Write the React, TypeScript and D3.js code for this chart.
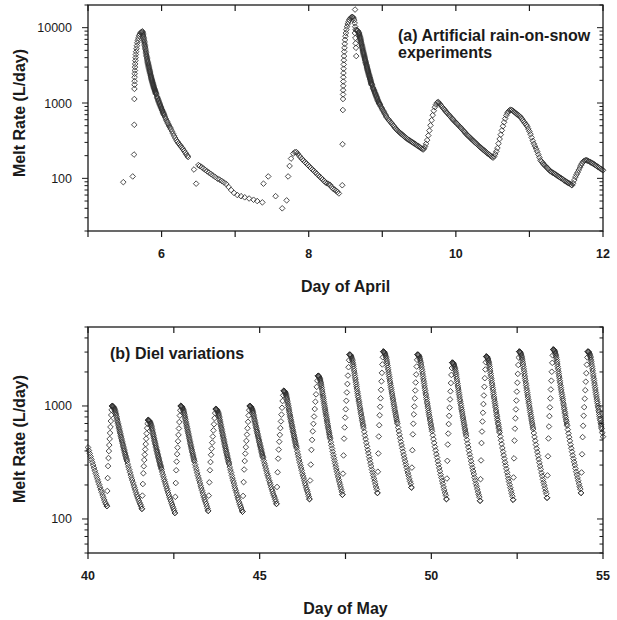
import React from "react";
import * as d3 from "d3";

// a segment is [first day, last day, melt rates logged evenly between them]
type Seg = [number, number, number[]];

// ---------- panel (a): artificial rain-on-snow experiments (April) ----------
const aprilDays = [5, 6, 7, 8, 9, 10, 11, 12];
const aprilDayLabels = [6, 8, 10, 12];

// single readings that do not sit on an even time step
const aprilPoints: [number, number][] = [
  [5.48, 89], [5.608, 106],
  [5.626, 207], [5.629, 514], [5.63, 1130], [5.631, 1540], [5.632, 1750], [5.633, 1950],
  [5.634, 2200], [5.635, 2450], [5.637, 2700], [5.639, 3000], [5.641, 3300], [5.644, 3650],
  [5.647, 4000], [5.65, 4400], [5.654, 4800], [5.659, 5250], [5.664, 5750], [5.67, 6300],
  [5.677, 6800], [5.685, 7300], [5.694, 7800], [5.704, 8200], [5.715, 8550], [5.727, 8800],
  [6.36, 192],
  [6.44, 131], [6.47, 85], [6.5, 150], [6.52, 146], [6.545, 141], [6.57, 135], [6.595, 129],
  [6.62, 124], [6.645, 119], [6.672, 114], [6.7, 109], [6.73, 104], [6.76, 99], [6.79, 96],
  [6.82, 92], [6.85, 88], [6.88, 84], [6.91, 77], [6.945, 70], [6.985, 64], [7.03, 60],
  [7.08, 58], [7.13, 56], [7.19, 54], [7.25, 52], [7.3, 50], [7.37, 48],
  [7.385, 85], [7.45, 106], [7.55, 58], [7.64, 40], [7.7, 51], [7.72, 106], [7.74, 146],
  [7.76, 183], [7.79, 213], [7.81, 222],
  [8.456, 81],
  [8.46, 284], [8.464, 807], [8.466, 1130], [8.467, 1300], [8.468, 1480], [8.469, 1690],
  [8.47, 1930], [8.471, 2200], [8.472, 2500], [8.474, 2850], [8.476, 3250], [8.478, 3700],
  [8.48, 4200], [8.483, 4800], [8.486, 5400], [8.49, 6100], [8.494, 6900], [8.499, 7700],
  [8.505, 8500], [8.512, 9400], [8.52, 10300], [8.53, 11200], [8.54, 12000], [8.552, 12700],
  [8.565, 13300], [8.578, 13700], [8.59, 13900], [8.6, 13800], [8.61, 13400], [8.618, 12600],
  [8.625, 11500], [8.632, 10300], [8.638, 9400], [8.648, 9300], [8.66, 9200], [8.67, 9000],
  [8.628, 8500], [8.634, 7300], [8.638, 6200], [8.642, 5400], [8.646, 4200],
  [8.63, 17400],
];

const aprilSegments: Seg[] = [
  [5.74, 5.926, [8950, 8340, 7730, 7110, 6550, 6030, 5550, 5100, 4690, 4310, 4010, 3720, 3475, 3265, 3070, 2884,
    2720, 2565, 2420, 2285, 2155, 2050, 1954, 1862, 1770, 1690, 1610, 1545, 1483, 1419, 1361, 1306]],
  [5.743, 5.923, [8640, 8030, 7410, 6820, 6285, 5785, 5320, 4890, 4500, 4160, 3860, 3595, 3370, 3165, 2975, 2800,
    2640, 2490, 2350, 2220, 2100, 2000, 1905, 1815, 1730, 1650, 1577, 1514, 1450, 1390, 1333]],
  [5.936, 6.126, [1225, 1151, 1081, 1016, 959, 906, 855, 809, 766, 724, 687, 653, 621, 590, 564, 538, 513, 491, 470, 450]],
  [5.941, 6.031, [1188, 1115, 1048, 987, 932, 880, 832, 787, 745, 705]],
  [6.141, 6.351, [421, 393, 366, 343, 321, 306, 292, 279, 268, 256, 244, 232, 220, 209, 199]],
  [7.83, 8.41, [224, 214, 200, 190, 180, 172, 164, 157, 150, 143, 137, 131, 126, 120, 115, 110, 105, 101, 97, 92,
    88, 86, 84, 82, 77, 73, 71, 69, 66, 63]],
  [8.68, 8.86, [8690, 8220, 7780, 7380, 6950, 6530, 6140, 5770, 5420, 5090, 4790, 4530, 4290, 4060, 3840, 3630,
    3440, 3250, 3080, 2920, 2770, 2640, 2510, 2380, 2260, 2150, 2050, 1950, 1850, 1780, 1720]],
  [8.683, 8.857, [8450, 8000, 7580, 7160, 6740, 6330, 5950, 5590, 5250, 4940, 4660, 4410, 4170, 3950, 3735, 3535,
    3345, 3165, 3000, 2845, 2705, 2575, 2445, 2320, 2205, 2100, 2000, 1900, 1815, 1750]],
  [8.87, 9.06, [1620, 1530, 1450, 1365, 1290, 1220, 1150, 1080, 1023, 981, 942, 902, 865, 830, 796, 764, 733, 702, 673, 646]],
  [8.875, 8.965, [1575, 1490, 1407, 1327, 1255, 1185, 1115, 1051, 1002, 961]],
  [9.075, 9.555, [619, 594, 569, 546, 524, 502, 481, 461, 443, 429, 416, 404, 392, 381, 370, 359, 349, 339, 331, 324,
    317, 310, 303, 297, 290, 284, 277, 271, 265, 259, 252, 247, 241]],
  [9.565, 9.76, [248, 264, 288, 322, 370, 430, 505, 590, 690, 790, 880, 955, 1010, 1035]],
  [9.77, 10.505, [993, 964, 923, 883, 847, 815, 782, 752, 723, 695, 670, 644, 619, 597, 575, 556, 537, 519, 501, 484,
    466, 449, 432, 416, 400, 385, 372, 361, 349, 338, 327, 317, 307, 297, 288, 279, 270, 262, 255, 248,
    241, 234, 228, 221, 215, 209, 204, 198, 193, 188]],
  [10.52, 10.76, [195, 210, 228, 252, 290, 333, 380, 433, 492, 555, 620, 685, 735, 775, 800, 812, 810]],
  [10.775, 11.57, [787, 766, 745, 724, 706, 689, 671, 650, 621, 592, 565, 538, 514, 490, 453, 420, 385, 348, 315, 288,
    267, 247, 228, 208, 190, 174, 167, 160, 153, 148, 143, 138, 133, 129, 124, 122, 119, 117, 114, 112,
    109, 107, 104, 102, 100, 98, 95, 93, 91, 89, 87, 86, 84, 82]],
  [11.58, 11.775, [81, 86, 95, 104, 112, 120, 129, 139, 149, 158, 166, 171, 174, 174]],
  [11.79, 12.0, [172, 169, 166, 163, 160, 157, 153, 150, 147, 143, 140, 137, 134, 131, 128]],
];

// ---------- panel (b): diel variations (May) ----------
const mayDays = [40, 42.5, 45, 47.5, 50, 52.5, 55];
const mayDayLabels = [40, 45, 50, 55];

const mayStart: Seg[] = [
  [40.0, 40.55, [430, 404, 380, 358, 337, 318, 300, 283, 267, 252, 238, 225, 213, 202, 191, 181, 172, 163, 155, 147, 140, 135, 130]],
];

const mayRises: Seg[] = [
  [40.55, 40.7, [130, 177, 230, 294, 346, 399, 451, 511, 577, 652, 736, 832, 923, 1000]],
  [41.57, 41.75, [123, 161, 204, 254, 293, 333, 371, 413, 460, 513, 571, 637, 698, 750]],
  [42.53, 42.7, [113, 157, 208, 270, 322, 375, 428, 488, 555, 632, 721, 822, 916, 1000]],
  [43.5, 43.72, [118, 161, 211, 270, 319, 370, 419, 474, 537, 608, 689, 780, 865, 940]],
  [44.5, 44.71, [116, 160, 212, 274, 326, 379, 432, 491, 558, 635, 724, 824, 918, 1000]],
  [45.49, 45.7, [136, 192, 259, 342, 411, 483, 555, 637, 731, 839, 964, 1107, 1242, 1360]],
  [46.45, 46.7, [150, 219, 303, 409, 501, 597, 695, 807, 940, 1091, 1268, 1476, 1671, 1850]],
  [47.41, 47.62, [164, 252, 365, 514, 646, 789, 935, 1112, 1318, 1567, 1858, 2203, 2541, 2850]],
  [48.43, 48.6, [170, 262, 380, 537, 676, 828, 984, 1169, 1390, 1652, 1963, 2333, 2698, 3030]],
  [49.42, 49.6, [190, 285, 406, 561, 697, 843, 991, 1167, 1371, 1614, 1901, 2234, 2559, 2850]],
  [50.44, 50.61, [150, 228, 327, 456, 570, 692, 818, 966, 1143, 1349, 1596, 1884, 2168, 2420]],
  [51.42, 51.6, [145, 225, 330, 470, 594, 729, 871, 1040, 1239, 1479, 1762, 2104, 2438, 2740]],
  [52.38, 52.56, [148, 233, 344, 494, 630, 778, 933, 1117, 1340, 1607, 1923, 2307, 2685, 3030]],
  [53.37, 53.55, [154, 243, 359, 516, 658, 813, 973, 1167, 1400, 1675, 2009, 2410, 2805, 3160]],
  [54.36, 54.56, [170, 258, 374, 530, 668, 820, 976, 1160, 1380, 1640, 1950, 2320, 2690, 3030]],
];

const mayFalls: Seg[] = [
  [40.7, 41.57, [1000, 994, 976, 948, 909, 862, 807, 751, 700, 654, 611, 571, 534, 500, 469, 440, 413, 389, 366, 344,
    325, 306, 289, 274, 259, 245, 232, 221, 210, 199, 190, 181, 172, 164, 157, 151, 145, 139, 134, 129, 123]],
  [41.75, 42.53, [750, 746, 734, 715, 689, 657, 619, 581, 546, 513, 483, 455, 429, 404, 382, 360, 341, 322, 305, 290,
    275, 261, 248, 236, 224, 214, 204, 195, 186, 178, 170, 163, 156, 150, 144, 138, 133, 128, 123, 118, 113]],
  [42.7, 43.5, [1000, 995, 978, 950, 912, 865, 810, 754, 702, 655, 612, 572, 535, 500, 468, 439, 412, 387, 364, 342,
    322, 303, 286, 271, 256, 242, 230, 219, 208, 197, 188, 179, 170, 162, 155, 148, 142, 136, 130, 124, 118]],
  [43.72, 44.5, [940, 934, 917, 891, 854, 810, 759, 706, 658, 615, 574, 537, 502, 470, 441, 414, 388, 366, 344, 323,
    306, 288, 272, 258, 243, 230, 218, 208, 197, 187, 179, 170, 162, 154, 148, 141, 135, 130, 125, 120, 116]],
  [44.71, 45.49, [1000, 994, 976, 951, 914, 870, 817, 764, 715, 671, 629, 590, 554, 521, 491, 462, 435, 412, 389, 367,
    348, 329, 311, 296, 281, 267, 253, 242, 231, 219, 210, 201, 191, 183, 176, 168, 162, 156, 149, 143, 136]],
  [45.7, 46.45, [1360, 1352, 1326, 1286, 1231, 1165, 1088, 1010, 939, 874, 814, 760, 708, 662, 619, 579, 542, 509, 479, 448,
    423, 397, 374, 354, 333, 315, 298, 283, 269, 254, 241, 230, 218, 207, 199, 189, 181, 174, 166, 158, 150]],
  [46.7, 47.41, [1850, 1840, 1800, 1740, 1660, 1560, 1450, 1330, 1230, 1140, 1050, 974, 903, 838, 779, 724, 674, 628, 586, 547,
    512, 479, 449, 421, 395, 371, 349, 329, 310, 293, 277, 262, 248, 235, 223, 212, 202, 192, 183, 174, 164]],
  [47.62, 48.43, [2850, 2830, 2757, 2653, 2514, 2336, 2139, 1952, 1773, 1623, 1481, 1348, 1235, 1131, 1045, 957, 881, 810, 748, 691,
    638, 591, 547, 509, 472, 440, 409, 383, 356, 334, 312, 293, 274, 258, 243, 229, 216, 204, 192, 183, 170]],
  [48.6, 49.42, [3030, 3011, 2932, 2825, 2679, 2493, 2286, 2089, 1902, 1743, 1593, 1453, 1333, 1223, 1132, 1038, 956, 882, 815, 753,
    698, 646, 600, 558, 519, 483, 451, 422, 394, 369, 346, 325, 305, 287, 269, 255, 241, 227, 215, 205, 190]],
  [49.6, 50.44, [2850, 2830, 2752, 2645, 2500, 2316, 2113, 1919, 1737, 1584, 1438, 1305, 1190, 1085, 999, 912, 836, 767, 705, 649,
    597, 551, 509, 471, 436, 405, 375, 350, 325, 303, 283, 265, 247, 232, 217, 205, 192, 181, 170, 162, 150]],
  [50.61, 51.42, [2420, 2404, 2341, 2253, 2134, 1984, 1818, 1658, 1505, 1378, 1258, 1145, 1050, 961, 888, 813, 749, 689, 636, 587,
    543, 502, 465, 433, 402, 374, 349, 325, 303, 284, 266, 250, 233, 220, 206, 195, 184, 173, 164, 156, 145]],
  [51.6, 52.38, [2740, 2722, 2646, 2545, 2406, 2231, 2036, 1852, 1676, 1528, 1391, 1262, 1153, 1052, 969, 884, 811, 746, 685, 631,
    582, 537, 497, 460, 425, 395, 367, 342, 318, 298, 278, 259, 243, 227, 214, 201, 189, 178, 168, 159, 148]],
  [52.56, 53.37, [3030, 3010, 2926, 2810, 2653, 2458, 2239, 2031, 1837, 1673, 1518, 1376, 1254, 1143, 1052, 958, 878, 804, 739, 679,
    625, 576, 532, 492, 455, 421, 391, 364, 338, 315, 294, 275, 256, 240, 224, 211, 199, 187, 176, 167, 154]],
  [53.55, 54.36, [3160, 3139, 3052, 2936, 2775, 2571, 2347, 2134, 1933, 1762, 1603, 1456, 1328, 1212, 1118, 1020, 935, 859, 790, 727,
    670, 618, 572, 530, 491, 455, 423, 394, 366, 342, 320, 300, 280, 262, 246, 231, 218, 205, 193, 184, 170]],
  [54.56, 55.0, [3030, 3008, 2930, 2815, 2660, 2465, 2245, 2040, 1845, 1680, 1525, 1383, 1260, 1150, 1058, 965, 884, 810, 745, 684,
    630, 580, 535]],
];

// extra tips logged during the fast upper part of each recession (the dark bands)
const mayFallsDense: Seg[] = [
  [40.711, 41.124, [999, 987, 963, 929, 886, 835, 779, 725, 677, 632, 590, 552, 517, 484, 454, 426, 401, 377, 355, 334]],
  [41.76, 42.13, [749, 741, 725, 703, 673, 638, 600, 563, 529, 498, 468, 441, 416, 393, 371, 351, 332, 314, 297, 282]],
  [42.71, 43.09, [999, 987, 964, 930, 887, 837, 781, 727, 678, 633, 591, 553, 517, 484, 453, 425, 399, 375, 353, 332]],
  [43.73, 44.1, [939, 927, 906, 874, 833, 785, 732, 682, 636, 594, 555, 519, 486, 455, 427, 401, 377, 354, 334, 314]],
  [44.72, 45.09, [999, 987, 965, 934, 893, 844, 790, 739, 693, 649, 609, 572, 537, 506, 476, 448, 423, 399, 377, 357]],
  [45.709, 46.066, [1358, 1341, 1308, 1260, 1199, 1127, 1048, 974, 906, 843, 786, 733, 684, 640, 598, 560, 525, 493, 463, 435]],
  [46.709, 47.046, [1847, 1822, 1773, 1702, 1611, 1506, 1390, 1282, 1184, 1094, 1013, 938, 870, 808, 751, 699, 651, 607, 566, 529]],
  [47.63, 48.015, [2844, 2800, 2712, 2587, 2428, 2244, 2045, 1862, 1699, 1550, 1417, 1297, 1188, 1091, 1001, 921, 848, 782, 722, 667]],
  [48.61, 49.0, [3025, 2977, 2886, 2754, 2587, 2394, 2184, 1992, 1819, 1663, 1521, 1394, 1279, 1175, 1080, 995, 917, 847, 782, 724]],
  [49.611, 50.01, [2844, 2798, 2707, 2575, 2410, 2220, 2014, 1827, 1659, 1509, 1373, 1252, 1143, 1044, 956, 875, 803, 738, 679, 625]],
  [50.62, 51.005, [2415, 2377, 2303, 2197, 2062, 1906, 1737, 1581, 1443, 1316, 1203, 1101, 1009, 926, 850, 782, 720, 664, 613, 567]],
  [51.61, 51.98, [2734, 2690, 2602, 2476, 2317, 2135, 1936, 1757, 1595, 1450, 1320, 1203, 1099, 1004, 919, 841, 772, 709, 652, 601]],
  [52.57, 52.955, [3024, 2973, 2875, 2734, 2556, 2352, 2131, 1930, 1750, 1589, 1444, 1314, 1199, 1094, 1000, 914, 838, 769, 706, 650]],
  [53.56, 53.945, [3153, 3102, 3001, 2855, 2672, 2462, 2233, 2026, 1840, 1673, 1522, 1388, 1267, 1158, 1060, 970, 890, 818, 752, 693]],
  [54.57, 54.95, [3025, 2975, 2878, 2738, 2560, 2356, 2135, 1935, 1755, 1594, 1449, 1318, 1203, 1098, 1003, 917, 841, 772, 709, 653]],
];

// ---------- layout ----------
const W = 617;
const H = 620;
const LEFT = 88;
const RIGHT = 603;
const FONT = "'Liberation Sans', Arial, Helvetica, sans-serif";
const INK = "#1a1a1a";

function expand(segs: Seg[]): [number, number][] {
  const out: [number, number][] = [];
  segs.forEach(([t0, t1, vals]) => {
    const step = vals.length > 1 ? (t1 - t0) / (vals.length - 1) : 0;
    vals.forEach((v, i) => out.push([t0 + i * step, v]));
  });
  return out;
}

const isDecade = (v: number) => Math.abs(Math.log10(v) - Math.round(Math.log10(v))) < 1e-9;
const diamond = (r: number) => `M0,${-r}L${r},0L0,${r}L${-r},0Z`;

type PanelProps = {
  top: number;
  bottom: number;
  xDomain: [number, number];
  yDomain: [number, number];
  points: [number, number][];
  days: number[];
  dayLabels: number[];
  xTitle: string;
  yTitleY: number;
  notes: { x: number; y: number; text: string }[];
};

function Panel({ top, bottom, xDomain, yDomain, points, days, dayLabels, xTitle, yTitleY, notes }: PanelProps) {
  const x = d3.scaleLinear().domain(xDomain).range([LEFT, RIGHT]);
  const y = d3.scaleLog().domain(yDomain).range([bottom, top]);
  const yTicks = y.ticks().filter((v) => v >= yDomain[0] && v <= yDomain[1]);

  return (
    <g>
      {/* markers */}
      <g fill="none" stroke="#2e2e2e" strokeWidth={0.85}>
        {points.map(([t, v], i) => (
          <path key={i} d={diamond(2.8)} transform={`translate(${x(t).toFixed(2)},${y(v).toFixed(2)})`} />
        ))}
      </g>

      {/* frame */}
      <rect x={LEFT} y={top} width={RIGHT - LEFT} height={bottom - top} fill="none" stroke={INK} strokeWidth={1.3} />

      {/* x ticks: outward at bottom, inward at top */}
      <g stroke={INK} strokeWidth={1.2}>
        {days.map((d) => (
          <g key={d}>
            <line x1={x(d)} x2={x(d)} y1={bottom} y2={bottom + 6} />
            <line x1={x(d)} x2={x(d)} y1={top} y2={top + 6} />
          </g>
        ))}
      </g>

      {/* y ticks: outward on left, inward on right */}
      <g stroke={INK} strokeWidth={1}>
        {yTicks.map((v) => {
          const len = isDecade(v) ? 6 : 3.5;
          return (
            <g key={v}>
              <line x1={LEFT - len} x2={LEFT} y1={y(v)} y2={y(v)} />
              <line x1={RIGHT - len} x2={RIGHT} y1={y(v)} y2={y(v)} />
            </g>
          );
        })}
      </g>

      {/* tick labels */}
      <g fontFamily={FONT} fontSize={12.5} fill={INK}>
        {dayLabels.map((d) => (
          <text key={d} x={x(d)} y={bottom + 27} textAnchor="middle" fontWeight="bold">
            {d}
          </text>
        ))}
        {yTicks.filter(isDecade).map((v) => (
          <text key={v} x={LEFT - 16} y={y(v) + 4.5} textAnchor="end">
            {v}
          </text>
        ))}
      </g>

      {/* titles */}
      <g fontFamily={FONT} fontSize={16} fontWeight="bold" fill={INK}>
        <text x={(LEFT + RIGHT) / 2} y={bottom + 61} textAnchor="middle">
          {xTitle}
        </text>
        <text transform={`translate(25,${yTitleY}) rotate(-90)`} textAnchor="middle">
          Melt Rate (L/day)
        </text>
        {notes.map((n) => (
          <text key={n.text} x={n.x} y={n.y}>
            {n.text}
          </text>
        ))}
      </g>
    </g>
  );
}

export default function App() {
  const aprilAll = aprilPoints.concat(expand(aprilSegments));
  const mayAll = expand(mayStart).concat(expand(mayRises), expand(mayFalls), expand(mayFallsDense));

  return (
    <svg width={W} height={H} style={{ position: "absolute", left: 0, top: 0, background: "#fff" }}>
      <Panel
        top={5}
        bottom={231}
        xDomain={[5, 12]}
        yDomain={[20, 20000]}
        points={aprilAll}
        days={aprilDays}
        dayLabels={aprilDayLabels}
        xTitle="Day of April"
        yTitleY={113}
        notes={[
          { x: 398, y: 41, text: "(a) Artificial rain-on-snow" },
          { x: 398, y: 58, text: "experiments" },
        ]}
      />
      <Panel
        top={327}
        bottom={553}
        xDomain={[40, 55]}
        yDomain={[50, 5000]}
        points={mayAll}
        days={mayDays}
        dayLabels={mayDayLabels}
        xTitle="Day of May"
        yTitleY={439}
        notes={[{ x: 110, y: 359, text: "(b) Diel variations" }]}
      />
    </svg>
  );
}
